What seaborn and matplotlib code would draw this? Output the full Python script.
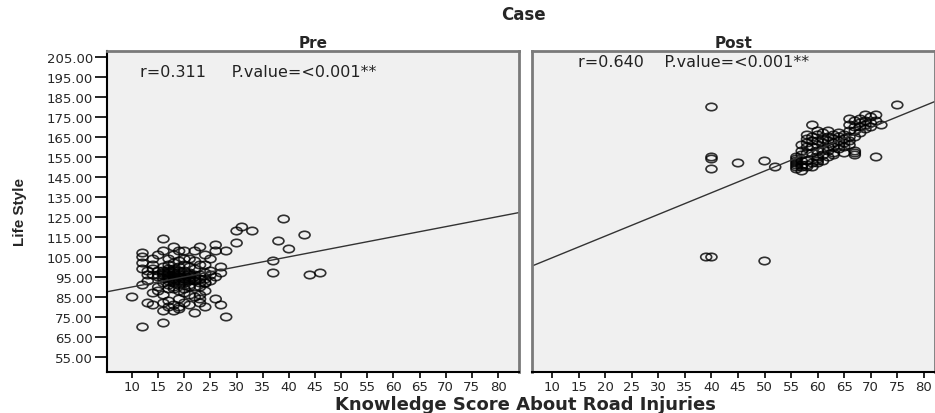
import numpy as np
import pandas as pd
import matplotlib
matplotlib.use('Agg')
import matplotlib.pyplot as plt
import seaborn as sns
from matplotlib.path import Path
from matplotlib.transforms import Affine2D

# knowledge score / life style pairs
pre_points = [
    (10, 85), (12, 70), (16, 72), (28, 75), (26, 84), (27, 81), (13, 82), (14, 81), (14, 87), (12, 91), (13, 93),
    (12, 107), (12, 105), (12, 102), (12, 99), (14, 104), (15, 106), (16, 108), (16, 114), (18, 110), (19, 108),
    (20, 104), (22, 108), (23, 110), (24, 106), (26, 111), (26, 108), (28, 108), (30, 112), (30, 118), (31, 120),
    (33, 118), (39, 124), (38, 113), (40, 109), (43, 116), (37, 103), (37, 97), (44, 96), (46, 97), (27, 97),
    (27, 100), (23, 101), (22, 99), (21, 100), (25, 98), (24, 92), (25, 96),
    (16, 78), (18, 78), (22, 77), (19, 79), (17, 80), (21, 81), (23, 82), (23, 84), (20, 87), (23, 86), (16, 86),
    (17, 83), (18, 89), (21, 90), (24, 92), (23, 90), (15, 88), (19, 84), (20, 82), (22, 85), (24, 88), (18, 81),
    (16, 82), (19, 80), (24, 80), (21, 86),
    (15, 90), (15, 95), (15, 98), (16, 92), (16, 94), (16, 97), (16, 100), (17, 89), (17, 91), (17, 93), (17, 95),
    (17, 96), (17, 98), (17, 101), (18, 90), (18, 92), (18, 94), (18, 95), (18, 96), (18, 97), (18, 99), (18, 102),
    (19, 88), (19, 91), (19, 93), (19, 95), (19, 97), (19, 100), (20, 89), (20, 92), (20, 94), (20, 96), (20, 98),
    (20, 101), (21, 91), (21, 93), (21, 95), (21, 97), (22, 90), (22, 93), (22, 95), (22, 96), (23, 92), (23, 94),
    (23, 96), (24, 94), (24, 97), (25, 93), (26, 95), (19, 103), (17, 104), (18, 106), (21, 104), (20, 108),
    (22, 103), (24, 101), (25, 104), (14, 96), (14, 99), (13, 96),
    (15, 96), (16, 96), (16, 98), (17, 97), (17, 99), (18, 93), (18, 98), (19, 94), (19, 96), (19, 98),
    (20, 93), (20, 95), (21, 94), (21, 96), (22, 94), (17, 94), (13, 98), (14, 101),
]
post_points = [
    (40, 180), (40, 155), (40, 154), (40, 149), (45, 152), (50, 153), (52, 150), (39, 105), (40, 105), (50, 103),
    (75, 181), (71, 176), (72, 171), (71, 155), (67, 158), (67, 157), (67, 156), (59, 171), (66, 174),
    (56, 149), (56, 150), (56, 151), (56, 152), (56, 153), (56, 154), (56, 155), (57, 148), (57, 150), (57, 153),
    (57, 156), (57, 158), (58, 160), (58, 162), (58, 164), (58, 166), (59, 157), (59, 160), (59, 163), (59, 165),
    (60, 155), (60, 158), (60, 161), (60, 163), (60, 166), (60, 168), (61, 156), (61, 159), (61, 162), (61, 164),
    (61, 167), (62, 155), (62, 158), (62, 160), (62, 163), (62, 165), (62, 168), (63, 157), (63, 160), (63, 162),
    (63, 164), (63, 166), (64, 159), (64, 161), (64, 163), (64, 165), (64, 167), (65, 160), (65, 162), (65, 164),
    (65, 166), (66, 161), (66, 163), (66, 165), (66, 168), (67, 165), (67, 168), (67, 170), (68, 167), (68, 170),
    (68, 172), (69, 169), (69, 171), (69, 173), (70, 170), (70, 172), (66, 171), (67, 173), (68, 174), (58, 153),
    (59, 152), (58, 151), (61, 153), (63, 156), (60, 154), (58, 150), (57, 161), (58, 157), (65, 157), (57, 151),
    (60, 152), (59, 150), (60, 153), (70, 175), (69, 176), (71, 173),
]
panels = ['Pre', 'Post']
stats_labels = ['r=0.311     P.value=<0.001**', 'r=0.640    P.value=<0.001**']
x_ticks = list(range(10, 85, 5))
y_ticks = list(range(55, 215, 10))

df = pd.concat([
    pd.DataFrame(pre_points, columns=['knowledge', 'lifestyle']).assign(case='Pre'),
    pd.DataFrame(post_points, columns=['knowledge', 'lifestyle']).assign(case='Post'),
])

sns.set_style('white')
plt.rcParams['font.family'] = ['DejaVu Sans']

ellipse = Path.unit_circle().transformed(Affine2D().scale(1.0, 0.68))
border = '#7a7a7a'

fig = plt.figure(figsize=(9.35, 4.14), dpi=100)
axes = [fig.add_axes([0.1144, 0.099, 0.4406, 0.7754]),
        fig.add_axes([0.569, 0.099, 0.431, 0.7754])]
xlims = [(5.2, 84), (6.2, 82.1)]
text_pos = [(11.5, 197.5), (14.9, 202.5)]

for ax, case, xl, label, pos in zip(axes, panels, xlims, stats_labels, text_pos):
    sub = df[df['case'] == case]
    ax.set_facecolor('#f0f0f0')
    ax.set_xlim(xl)
    ax.set_ylim(47.5, 208)
    sns.scatterplot(data=sub, x='knowledge', y='lifestyle', marker=ellipse, s=62, color='black',
                    facecolor='none', edgecolor='black', linewidth=1.2, alpha=0.8, ax=ax)
    sns.regplot(data=sub, x='knowledge', y='lifestyle', scatter=False, ci=None, truncate=False,
                line_kws={'color': '#333333', 'linewidth': 1.0}, ax=ax)
    ax.set_xlim(xl)
    ax.set_ylim(47.5, 208)
    ax.set_xticks(x_ticks)
    ax.set_xlabel('')
    ax.set_ylabel('')
    ax.set_title(case, fontsize=11, fontweight='bold', pad=3)
    ax.text(pos[0], pos[1], label, fontsize=11.5, va='center', ha='left', color='#222222')
    for s in ['top', 'right', 'left']:
        ax.spines[s].set_color(border)
        ax.spines[s].set_linewidth(2)
    ax.spines['bottom'].set_color('black')
    ax.spines['bottom'].set_linewidth(1.5)
    ax.tick_params(axis='x', direction='out', length=4, width=1.2, color='black', pad=2, labelsize=9.5,
                   bottom=True)

axes[0].spines['left'].set_color('black')
axes[0].spines['left'].set_linewidth(1.5)
axes[0].set_yticks(y_ticks)
axes[0].set_yticklabels([f'{v:.2f}' for v in y_ticks])
axes[0].tick_params(axis='y', direction='out', length=9, width=1.2, color='black', pad=1, labelsize=9.5,
                    left=True)
axes[1].set_yticks([])

fig.text(0.56, 0.963, 'Case', fontsize=12, fontweight='bold', ha='center', va='center')
fig.text(0.562, 0.022, 'Knowledge Score About Road Injuries', fontsize=13, fontweight='bold',
         ha='center', va='center')
fig.text(0.021, 0.488, 'Life Style', fontsize=11, fontweight='bold', rotation=90, ha='center', va='center',
         family=['Liberation Sans', 'DejaVu Sans'])

fig.savefig('out.png', dpi=100)
